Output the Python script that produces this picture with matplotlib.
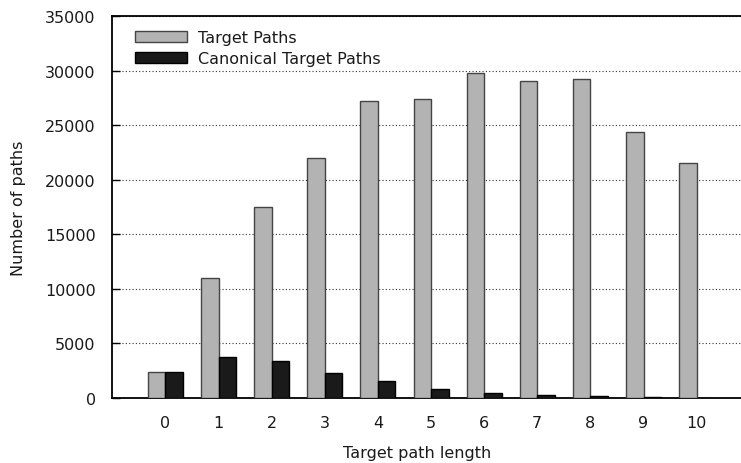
import matplotlib
matplotlib.use("Agg")
import matplotlib.pyplot as plt
import numpy as np

lengths = [0, 1, 2, 3, 4, 5, 6, 7, 8, 9, 10]
target_paths = [2400, 10950, 17500, 21950, 27200, 27400, 29800, 29000, 29200, 24350, 21500]
canonical_paths = [2400, 3800, 3350, 2300, 1600, 820, 490, 280, 180, 90, 40]
series_labels = ["Target Paths", "Canonical Target Paths"]
yticks = [0, 5000, 10000, 15000, 20000, 25000, 30000, 35000]

plt.rcParams['font.family'] = ['DejaVu Sans']
W, H = 741, 464
fig = plt.figure(figsize=(W/100, H/100), dpi=100)
left_px, bottom_px, top_px = 112.3, 399.0, 17.0
unit = 53.1
right_px = 165.7 + 11 * unit
ax = fig.add_axes([left_px/W, (H-bottom_px)/H, (right_px-left_px)/W, (bottom_px-top_px)/H])

x = np.array(lengths, dtype=float)
bw = 0.33
ax.bar(x - bw/2, target_paths, width=bw, color='#b3b3b3', edgecolor='#444444', linewidth=1.0,
       label=series_labels[0], zorder=3)
ax.bar(x + bw/2, canonical_paths, width=bw, color='#1a1a1a', edgecolor='#000000', linewidth=1.0,
       label=series_labels[1], zorder=3)

ax.set_xlim(-1, 11)
ax.set_ylim(0, 35000)
ax.set_yticks(yticks)
ax.set_yticklabels([str(v) for v in yticks])
ax.set_xticks(lengths)
ax.set_xticklabels([str(v) for v in lengths])
txtc = '#1a1a1a'
ax.tick_params(axis='y', direction='in', length=6, width=1, pad=12, labelsize=11.5, labelcolor=txtc)
ax.tick_params(axis='x', length=0, pad=12, labelsize=11.5, labelcolor=txtc)
ax.yaxis.grid(True, linestyle=(0, (1, 2)), color='#333333', linewidth=0.8, zorder=0)
ax.set_axisbelow(True)
for s in ['left', 'bottom', 'top']:
    ax.spines[s].set_linewidth(1.3)
ax.spines['right'].set_visible(False)

ax.set_xlabel("Target path length", fontsize=11.5, color=txtc)
ax.set_ylabel("Number of paths", fontsize=11.5, color=txtc)
ax.xaxis.set_label_coords(0.478, -0.122)
ax.yaxis.set_label_coords(-0.135, 0.5)

leg = ax.legend(loc='upper left', bbox_to_anchor=(0.025, 0.98), frameon=False, fontsize=11.5,
                handlelength=3.3, handleheight=0.7, labelspacing=0.4, handletextpad=0.65,
                borderaxespad=0, labelcolor=txtc)

fig.savefig("out.png", dpi=100)
